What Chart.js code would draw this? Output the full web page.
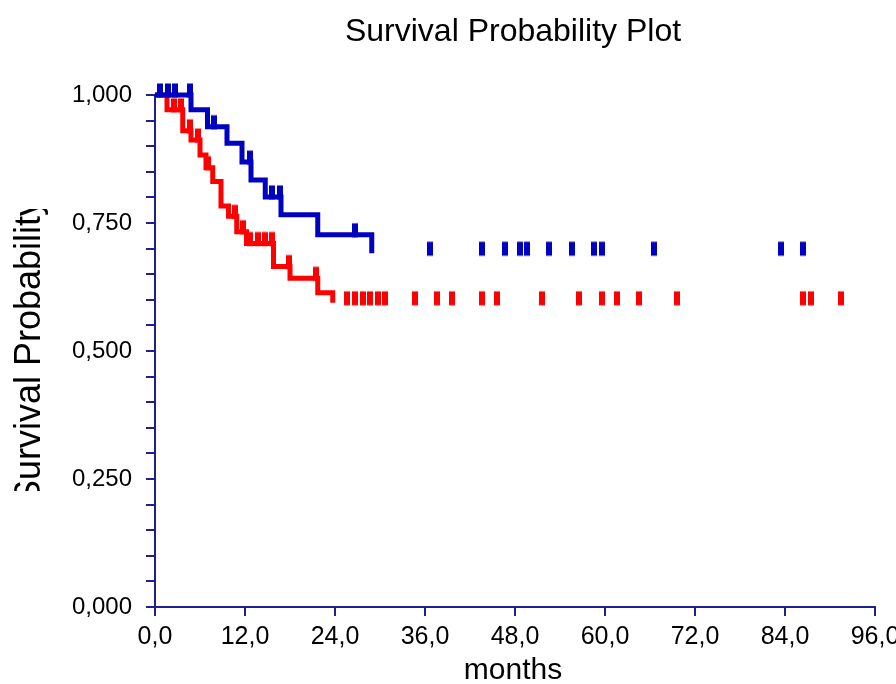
<!DOCTYPE html>
<html>
<head>
<meta charset="utf-8">
<script src="https://cdn.jsdelivr.net/npm/chart.js@4"></script>
<style>
  body { margin: 0; background: #fff; }
  #wrap { width: 896px; height: 684px; position: relative; }
</style>
</head>
<body>
<div id="wrap"><canvas id="km"></canvas></div>
<script>
// step points (time in months, survival) - group 1 (blue) and group 2 (red)
const blueTimes = [0, 4.8, 7.0, 9.6, 11.6, 12.8, 14.7, 16.8, 21.7, 28.9];
const blueSurv  = [1.000, 0.971, 0.938, 0.906, 0.869, 0.834, 0.801, 0.766, 0.727, 0.691];
const blueCensored = [0.7, 1.7, 2.7, 4.6, 7.8, 12.6, 15.6, 16.7, 26.7, 36.7, 43.6, 46.7, 48.7, 49.6,
                      52.5, 55.6, 58.5, 59.6, 66.5, 83.5, 86.4];

const redTimes = [0, 1.6, 3.7, 4.8, 6.0, 6.8, 7.7, 8.8, 9.8, 10.9, 12.2, 15.8, 18.0, 21.7, 23.7];
const redSurv  = [1.000, 0.971, 0.930, 0.912, 0.883, 0.858, 0.831, 0.783, 0.763, 0.733, 0.710,
                  0.665, 0.642, 0.614, 0.594];
const redCensored = [2.5, 3.5, 4.7, 5.7, 7.0, 10.7, 11.7, 12.7, 13.7, 14.7, 15.6, 17.8, 21.5,
                     25.6, 26.7, 27.7, 28.7, 29.7, 30.7, 34.7, 37.6, 39.6, 43.6, 45.6, 51.6,
                     56.5, 59.6, 61.6, 64.5, 69.6, 86.4, 87.5, 91.5];

const xTicks = [0, 12, 24, 36, 48, 60, 72, 84, 96];
const yMajor = [0, 0.25, 0.5, 0.75, 1];

const BLUE = '#0000c0';
const RED = '#ff0000';
const AXIS = '#20208c';
const FONT = "'Liberation Sans', Arial, sans-serif";

// survival level at time t (value of the step function)
function levelAt(times, surv, t) {
    let s = surv[0];
    for (let i = 0; i < times.length; i++) {
        if (times[i] <= t) s = surv[i];
    }
    return s;
}

function steps(times, surv) {
    return times.map((t, i) => ({ x: t, y: surv[i] }));
}

function censorPoints(times, surv, cens) {
    return cens.map(t => ({ x: t, y: levelAt(times, surv, t) }));
}

// small vertical bar used for censored cases, sitting on the curve level
function makeTick(color) {
    const c = document.createElement('canvas');
    c.width = 6;
    c.height = 30;
    const g = c.getContext('2d');
    g.fillStyle = color;
    g.fillRect(0, 3.5, 6, 14);
    return c;
}

const labelsPlugin = {
    id: 'labels',
    afterDraw(chart) {
        const ctx = chart.ctx;
        ctx.save();
        ctx.fillStyle = '#000';
        ctx.textAlign = 'center';
        ctx.textBaseline = 'middle';
        ctx.font = '32px ' + FONT;
        ctx.fillText('Survival Probability Plot', 513, 32);

        ctx.font = '30px ' + FONT;
        ctx.fillText('months', 513, 671);

        // y title, clipped like in the original
        ctx.save();
        ctx.beginPath();
        ctx.rect(0, 209, 80, 282);
        ctx.clip();
        ctx.translate(40, 351);
        ctx.rotate(-Math.PI / 2);
        ctx.textBaseline = 'alphabetic';
        ctx.font = '36px ' + FONT;
        ctx.fillText('Survival Probability', 0, 0);
        ctx.restore();
        ctx.restore();
    }
};

new Chart(document.getElementById('km'), {
    type: 'scatter',
    data: {
        datasets: [
            {
                data: steps(blueTimes, blueSurv),
                showLine: true,
                stepped: 'before',
                borderColor: BLUE,
                borderWidth: 5,
                pointRadius: 0,
                clip: false
            },
            {
                data: censorPoints(blueTimes, blueSurv, blueCensored),
                pointStyle: makeTick(BLUE),
                pointRadius: 5,
                clip: false
            },
            {
                data: steps(redTimes, redSurv),
                showLine: true,
                stepped: 'before',
                borderColor: RED,
                borderWidth: 5,
                pointRadius: 0,
                clip: false
            },
            {
                data: censorPoints(redTimes, redSurv, redCensored),
                pointStyle: makeTick(RED),
                pointRadius: 5,
                clip: false
            }
        ]
    },
    options: {
        responsive: true,
        maintainAspectRatio: false,
        animation: false,
        layout: { padding: { top: 95, right: 21, left: 0, bottom: 0 } },
        plugins: {
            legend: { display: false },
            tooltip: { enabled: false }
        },
        scales: {
            x: {
                type: 'linear',
                min: 0,
                max: 96,
                afterBuildTicks: (scale) => { scale.ticks = xTicks.map(v => ({ value: v })); },
                afterFit: (scale) => { scale.height = 77; scale.paddingLeft = 0; scale.paddingRight = 0; },
                ticks: {
                    autoSkip: false,
                    maxRotation: 0,
                    padding: 6,
                    color: '#000',
                    font: { family: FONT, size: 25 },
                    callback: (v) => v.toFixed(1).replace('.', ',')
                },
                grid: { drawOnChartArea: false, color: AXIS, lineWidth: 2, tickLength: 9 },
                border: { color: AXIS, width: 2 }
            },
            y: {
                min: 0,
                max: 1,
                ticks: {
                    stepSize: 0.05,
                    autoSkip: false,
                    padding: 14,
                    color: '#000',
                    font: { family: FONT, size: 24 },
                    callback: (v) => yMajor.some(m => Math.abs(m - v) < 1e-6) ? v.toFixed(3).replace('.', ',') : ''
                },
                afterFit: (scale) => { scale.width = 155; scale.paddingTop = 0; scale.paddingBottom = 0; },
                grid: { drawOnChartArea: false, color: AXIS, lineWidth: 2, tickLength: 9 },
                border: { color: AXIS, width: 2 }
            }
        }
    },
    plugins: [labelsPlugin]
});
</script>
</body>
</html>
